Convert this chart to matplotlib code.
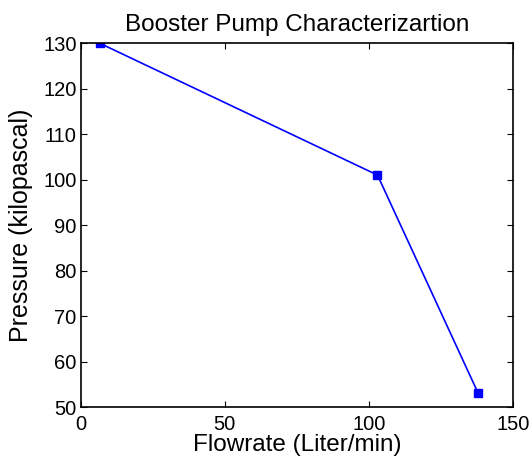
import matplotlib
matplotlib.use('Agg')
import matplotlib.pyplot as plt

flowrate = [6.5, 103, 138]      # Liter/min
pressure = [130, 101, 53]       # kilopascal
xticks = [0, 50, 100, 150]
yticks = [50, 60, 70, 80, 90, 100, 110, 120, 130]

plt.rcParams['font.family'] = ['Liberation Sans', 'DejaVu Sans']

fig = plt.figure(figsize=(5.32, 4.59), dpi=100)
ax = fig.add_axes([0.152, 0.113, 0.812, 0.793])
ax.plot(flowrate, pressure, color='blue', linewidth=1.2, marker='s', markersize=6)
ax.set_xlim(0, 150)
ax.set_ylim(50, 130)
ax.set_xticks(xticks)
ax.set_yticks(yticks)
ax.tick_params(direction='in', top=True, right=True, labelsize=14.5, length=4)
ax.tick_params(axis='y', pad=3)
ax.tick_params(axis='x', pad=5.5)
for s in ax.spines.values():
    s.set_linewidth(1.2)
ax.set_title('Booster Pump Characterizartion', fontsize=17.5, pad=9)
ax.set_xlabel('Flowrate (Liter/min)', fontsize=17.5, labelpad=0.5)
ax.set_ylabel('Pressure (kilopascal)', fontsize=18, labelpad=7)
fig.savefig('out.png', dpi=100)
